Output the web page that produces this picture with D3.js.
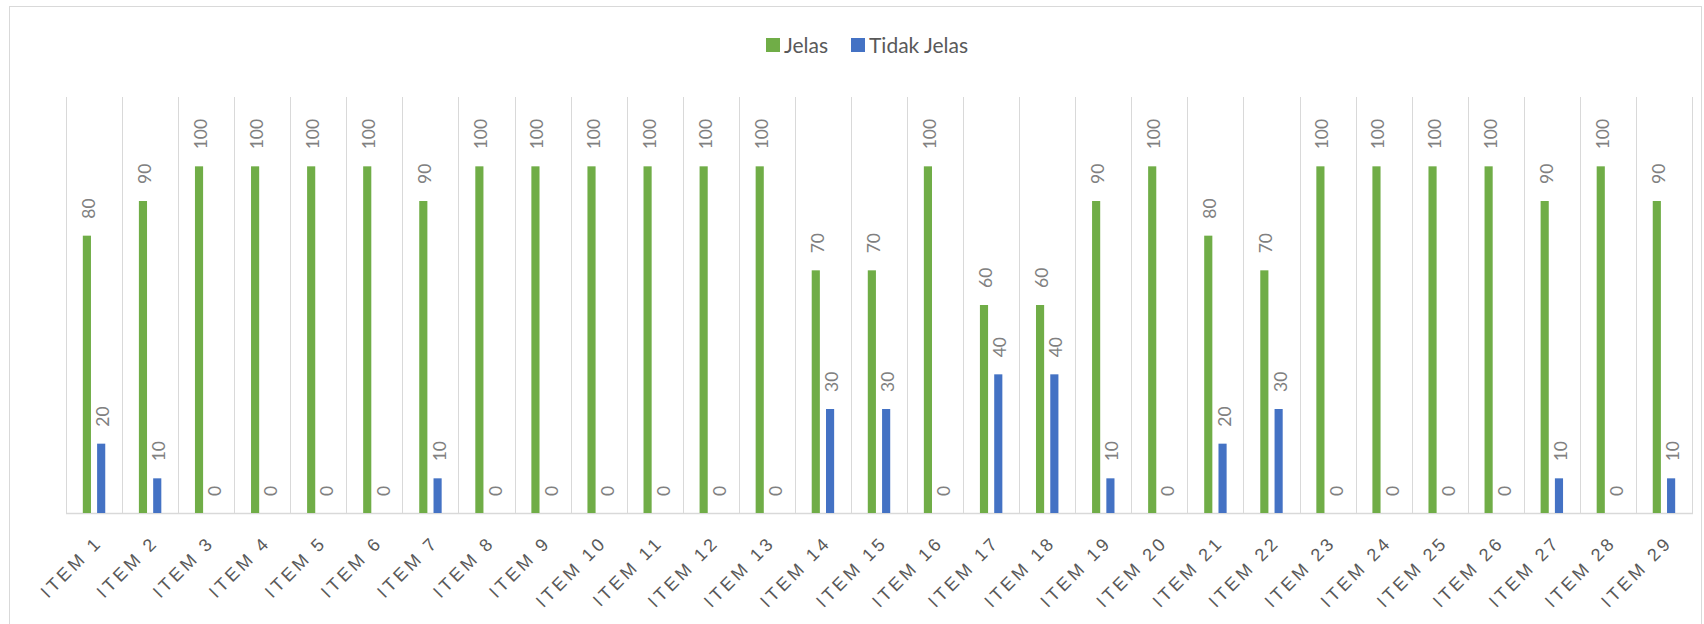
<!DOCTYPE html>
<meta charset="utf-8">
<head>
  <title>Jelas / Tidak Jelas</title>
</head>

<style>
body {
  margin: 0;
  background: #fff;
}
svg {
  display: block;
  font-family: Lato, "Open Sans", sans-serif;
}
.grid line {
  stroke: #d9d9d9;
  stroke-width: 1;
}
.val {
  fill: #808080;
  font-size: 17.5px;
}
.xaxis text {
  fill: #595959;
  font-size: 18px;
  letter-spacing: 3.4px;
}
.legend text {
  fill: #595959;
  font-size: 21px;
}
</style>

<body>
<svg id="chart" width="1704" height="624"></svg>

<script src="https://cdnjs.cloudflare.com/ajax/libs/d3/7.8.5/d3.min.js"></script>
<script>

// data
var items = ['ITEM 1', 'ITEM 2', 'ITEM 3', 'ITEM 4', 'ITEM 5', 'ITEM 6', 'ITEM 7', 'ITEM 8', 'ITEM 9', 'ITEM 10',
  'ITEM 11', 'ITEM 12', 'ITEM 13', 'ITEM 14', 'ITEM 15', 'ITEM 16', 'ITEM 17', 'ITEM 18', 'ITEM 19', 'ITEM 20',
  'ITEM 21', 'ITEM 22', 'ITEM 23', 'ITEM 24', 'ITEM 25', 'ITEM 26', 'ITEM 27', 'ITEM 28', 'ITEM 29'];
var jelas = [80, 90, 100, 100, 100, 100, 90, 100, 100, 100, 100, 100, 100, 70, 70, 100, 60, 60, 90, 100, 80, 70, 100, 100, 100, 100, 90, 100, 90];
var tidakJelas = [20, 10, 0, 0, 0, 0, 10, 0, 0, 0, 0, 0, 0, 30, 30, 0, 40, 40, 10, 0, 20, 30, 0, 0, 0, 0, 10, 0, 10];
var seriesNames = ['Jelas', 'Tidak Jelas'];
var colors = ['#70AD47', '#4472C4'];

var svg = d3.select('#chart');

// outer chart border
svg.append('rect')
  .attr('x', 9.5).attr('y', 6.5)
  .attr('width', 1692).attr('height', 640)
  .attr('fill', 'none')
  .attr('stroke', '#d9d9d9');

var plotLeft = 66, plotRight = 1692, plotTop = 97, plotBottom = 513;

var x = d3.scaleBand()
  .domain(items)
  .range([plotLeft, plotRight]);

var x1 = d3.scaleBand()
  .domain(seriesNames)
  .range([x.bandwidth() * 0.3, x.bandwidth() * 0.7])
  .paddingInner(0.43);

var y = d3.scaleLinear()
  .domain([0, 120])
  .range([plotBottom, plotTop]);

// vertical category gridlines
var grid = svg.append('g').attr('class', 'grid');
grid.selectAll('line.v')
  .data(items.concat(['__end']))
  .enter()
  .append('line')
  .attr('class', 'v')
  .attr('x1', function(d) { return Math.round(d === '__end' ? plotRight : x(d)) + 0.5; })
  .attr('x2', function(d) { return Math.round(d === '__end' ? plotRight : x(d)) + 0.5; })
  .attr('y1', y(120))
  .attr('y2', y(0));
grid.append('line')
  .attr('x1', plotLeft).attr('x2', plotRight + 1)
  .attr('y1', y(0) + 0.5).attr('y2', y(0) + 0.5)
  .style('stroke-width', 1.5);

var rows = items.map(function(name, i) {
  return {item: name, values: [
    {key: 'Jelas', value: jelas[i]},
    {key: 'Tidak Jelas', value: tidakJelas[i]}
  ]};
});

var groups = svg.selectAll('.item')
  .data(rows)
  .enter()
  .append('g')
  .attr('class', 'item')
  .attr('transform', function(d) { return 'translate(' + x(d.item) + ',0)'; });

groups.selectAll('rect')
  .data(function(d) { return d.values; })
  .enter()
  .append('rect')
  .attr('x', function(d) { return x1(d.key); })
  .attr('width', x1.bandwidth())
  .attr('y', function(d) { return y(d.value); })
  .attr('height', function(d) { return y(0) - y(d.value); })
  .attr('fill', function(d, i) { return colors[i]; });

// rotated value labels
groups.selectAll('text.val')
  .data(function(d) { return d.values; })
  .enter()
  .append('text')
  .attr('class', 'val')
  .attr('transform', function(d) {
    var cx = x1(d.key) + x1.bandwidth() / 2;
    return 'translate(' + (cx + 8) + ',' + (y(d.value) - 17) + ') rotate(-90)';
  })
  .text(function(d) { return d.value; });

// category axis labels
var xAxis = svg.append('g')
  .attr('class', 'xaxis')
  .attr('transform', 'translate(0,' + plotBottom + ')')
  .call(d3.axisBottom(x).tickSize(0));
xAxis.select('.domain').remove();
xAxis.selectAll('text')
  .attr('x', 3.4)
  .attr('y', 0)
  .attr('dy', 0)
  .attr('font-family', null)
  .attr('font-size', null)
  .attr('fill', null)
  .attr('text-anchor', 'end')
  .attr('transform', 'translate(7,33) rotate(-45)');

// legend
var legend = svg.append('g').attr('class', 'legend');
var legendX = [766, 851];
seriesNames.forEach(function(name, i) {
  legend.append('rect')
    .attr('x', legendX[i]).attr('y', 38)
    .attr('width', 14).attr('height', 14)
    .attr('fill', colors[i]);
  legend.append('text')
    .attr('x', legendX[i] + 18)
    .attr('y', 52.5)
    .text(name);
});

</script>
</body>
</html>
